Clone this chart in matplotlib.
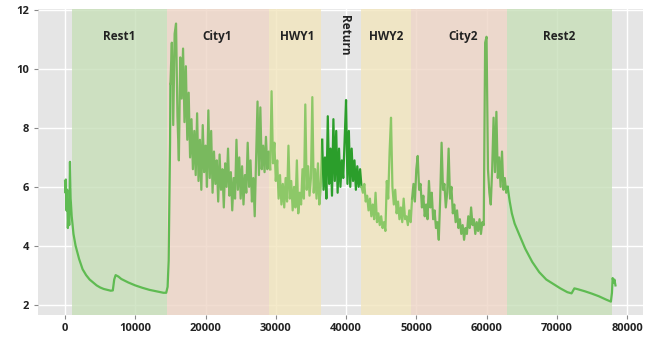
import numpy as np
import matplotlib
matplotlib.use('Agg')
import matplotlib.pyplot as plt

# region boundaries (x) and labels
regions = ['Rest1', 'City1', 'HWY1', 'Return', 'HWY2', 'City2', 'Rest2']
bounds = [950, 14500, 29100, 36500, 42150, 49200, 62900, 77800]
label_x = [7700, 21700, 33100, 39800, 45700, 56700, 70300]

# Rest1: start + cool-down curve
rest1_x = [0, 60, 120, 200, 300, 400, 500, 600, 700, 800, 950, 1200, 1500, 2000,
           2500, 3000, 3500, 4000, 4500, 5000, 5500, 6000, 6500, 6800, 7000, 7200,
           7600, 8000, 9000, 10000, 11000, 12000, 13000, 14000, 14400, 14600,
           14750, 14850, 14950]
rest1_y = [6.2, 5.8, 6.25, 5.2, 5.9, 4.6, 5.3, 4.7, 6.85, 5.6, 5.0, 4.4, 4.0, 3.55,
           3.2, 3.0, 2.85, 2.75, 2.65, 2.58, 2.53, 2.5, 2.47, 2.48, 2.85, 3.0,
           2.95, 2.87, 2.75, 2.65, 2.57, 2.5, 2.45, 2.4, 2.4, 2.6,
           3.5, 5.5, 7.5]

# City1, sampled every 200 from 15000
city1_y = [9.5, 10.9, 8.1, 11.2, 11.55, 8.4, 6.9, 10.4, 9.0, 10.7,
           8.2, 10.1, 7.6, 9.2, 7.0, 8.3, 6.6, 7.9, 6.4, 8.5,
           6.2, 7.6, 5.9, 8.1, 6.5, 7.4, 6.0, 8.6, 6.3, 7.9,
           5.8, 7.2, 6.1, 6.9, 5.5, 7.1, 5.9, 6.6, 5.3, 6.8,
           6.0, 7.3, 5.7, 6.5, 5.2, 6.3, 5.6, 7.6, 5.9, 7.0,
           5.6, 6.7, 5.4, 6.4, 5.8, 7.5, 6.0, 6.9, 5.5, 6.3,
           5.0, 7.0, 8.9, 6.4, 8.7, 6.6, 7.4, 6.5, 7.7, 6.6, 7.2]

# HWY1, every 200 from 29200
hwy1_y = [6.6, 9.25, 6.8, 7.5, 6.2, 6.9, 5.6, 6.4, 5.4, 6.1,
          5.3, 6.3, 5.5, 7.4, 5.6, 6.2, 5.2, 6.0, 5.3, 6.9,
          5.1, 5.8, 5.4, 6.6, 5.6, 8.8, 5.9, 6.7, 5.7, 6.3,
          9.05, 5.8, 6.6, 5.6, 6.8, 5.4, 6.0]

# Return, every 200 from 36600
return_y = [7.6, 5.9, 7.0, 5.6, 8.4, 6.1, 7.3, 5.7, 8.3, 6.2,
            7.9, 5.8, 7.3, 6.0, 6.9, 6.3, 7.6, 8.95, 6.1, 7.9,
            6.0, 7.3, 6.2, 6.9, 5.9, 6.7, 6.0, 6.6]

# HWY2, every 200 from 42200
hwy2_y = [6.0, 5.8, 6.1, 5.5, 5.7, 5.2, 5.6, 5.0, 5.4, 4.9,
          5.8, 4.8, 5.1, 4.7, 5.0, 4.6, 4.8, 4.5, 6.2, 5.6,
          7.2, 8.35, 6.0, 5.4, 5.9, 5.1, 5.5, 4.9, 5.3, 4.8,
          5.6, 4.9, 5.0, 4.7, 5.2, 4.8]

# City2, every 200 from 49400
city2_y = [5.6, 6.1, 5.5, 6.6, 7.05, 5.9, 6.1, 5.3, 5.7, 5.0,
           5.4, 4.9, 6.2, 5.3, 5.8, 4.9, 5.2, 4.6, 4.8, 4.2,
           5.6, 7.5, 5.9, 6.1, 5.3, 5.8, 7.3, 5.6, 6.0, 5.1,
           5.4, 4.8, 5.2, 4.6, 4.9, 4.4, 4.7, 4.2, 4.6, 4.4,
           5.0, 4.6, 5.3, 4.7, 4.9, 4.4, 4.8, 4.5, 4.9, 4.4,
           4.8, 4.7, 10.9, 11.1, 6.6, 5.8, 5.4, 6.6, 8.35, 6.5,
           8.55, 6.3, 7.0, 6.0, 7.2, 5.9, 6.3, 5.8, 6.0]

# Rest2 cool-down curve
rest2_x = [63000, 63300, 63600, 64000, 64700, 65500, 66500, 67500, 68500, 69500,
           70500, 71500, 72100, 72500, 73000, 74000, 75000, 76000, 77000, 77700,
           77850, 77950, 78100, 78200, 78350]
rest2_y = [6.0, 5.5, 5.1, 4.75, 4.35, 3.9, 3.45, 3.1, 2.85, 2.7,
           2.55, 2.42, 2.38, 2.55, 2.52, 2.45, 2.37, 2.28, 2.17, 2.1,
           2.4, 2.9, 2.75, 2.85, 2.65]

city1_x = 15000 + 200 * np.arange(len(city1_y))
hwy1_x = 29200 + 200 * np.arange(len(hwy1_y))
return_x = 36600 + 200 * np.arange(len(return_y))
hwy2_x = 42200 + 200 * np.arange(len(hwy2_y))
city2_x = 49400 + 200 * np.arange(len(city2_y))

segments = [
    (rest1_x, rest1_y, '#5fbb52'),
    (city1_x, city1_y, '#79b95e'),
    (hwy1_x, hwy1_y, '#8dc868'),
    (return_x, return_y, '#2b9e2b'),
    (hwy2_x, hwy2_y, '#8bc867'),
    (city2_x, city2_y, '#74b85a'),
    (rest2_x, rest2_y, '#5fbb52'),
]
span_colors = ['#c7dfb9', '#eed5c6', '#f2e5bd', None, '#f2e5bd', '#eed5c6', '#c7dfb9']

fig = plt.figure(figsize=(6.49, 3.40), dpi=100)
ax = fig.add_axes([0.058, 0.074, 0.932, 0.9])
ax.set_facecolor('#e5e5e5')
ax.grid(True, color='white', linewidth=1.0, zorder=0)
ax.set_axisbelow(True)
for s in ax.spines.values():
    s.set_visible(False)

# shaded regions
for i, name in enumerate(regions):
    if span_colors[i] is not None:
        ax.axvspan(bounds[i], bounds[i + 1], color=span_colors[i], alpha=0.8,
                   linewidth=0, zorder=1)

# draw the signal, one color per region, joined to the next segment
for i, (xs, ys, c) in enumerate(segments):
    xs = list(xs)
    ys = list(ys)
    if i + 1 < len(segments):
        xs.append(segments[i + 1][0][0])
        ys.append(segments[i + 1][1][0])
    ax.plot(xs, ys, color=c, linewidth=1.6, zorder=3)

# region labels
for i, name in enumerate(regions):
    if name == 'Return':
        ax.text(label_x[i], 11.85, name, rotation=-90, ha='center', va='top',
                fontsize=8.5, fontweight='bold', family='Open Sans', color='#222222', zorder=4)
    else:
        ax.text(label_x[i], 11.1, name, ha='center', va='center',
                fontsize=8.5, fontweight='bold', family='Open Sans', color='#222222', zorder=4)

ax.set_xlim(-3900, 82200)
ax.set_ylim(1.65, 12.05)
ax.set_xticks([0, 10000, 20000, 30000, 40000, 50000, 60000, 70000, 80000])
ax.set_yticks([2, 4, 6, 8, 10, 12])
ax.tick_params(length=3, color='#888888', labelsize=8, pad=3)
for lab in ax.get_xticklabels() + ax.get_yticklabels():
    lab.set_fontweight('bold')
    lab.set_family('Open Sans')
    lab.set_color('#222222')

plt.savefig('out.png', dpi=100)
